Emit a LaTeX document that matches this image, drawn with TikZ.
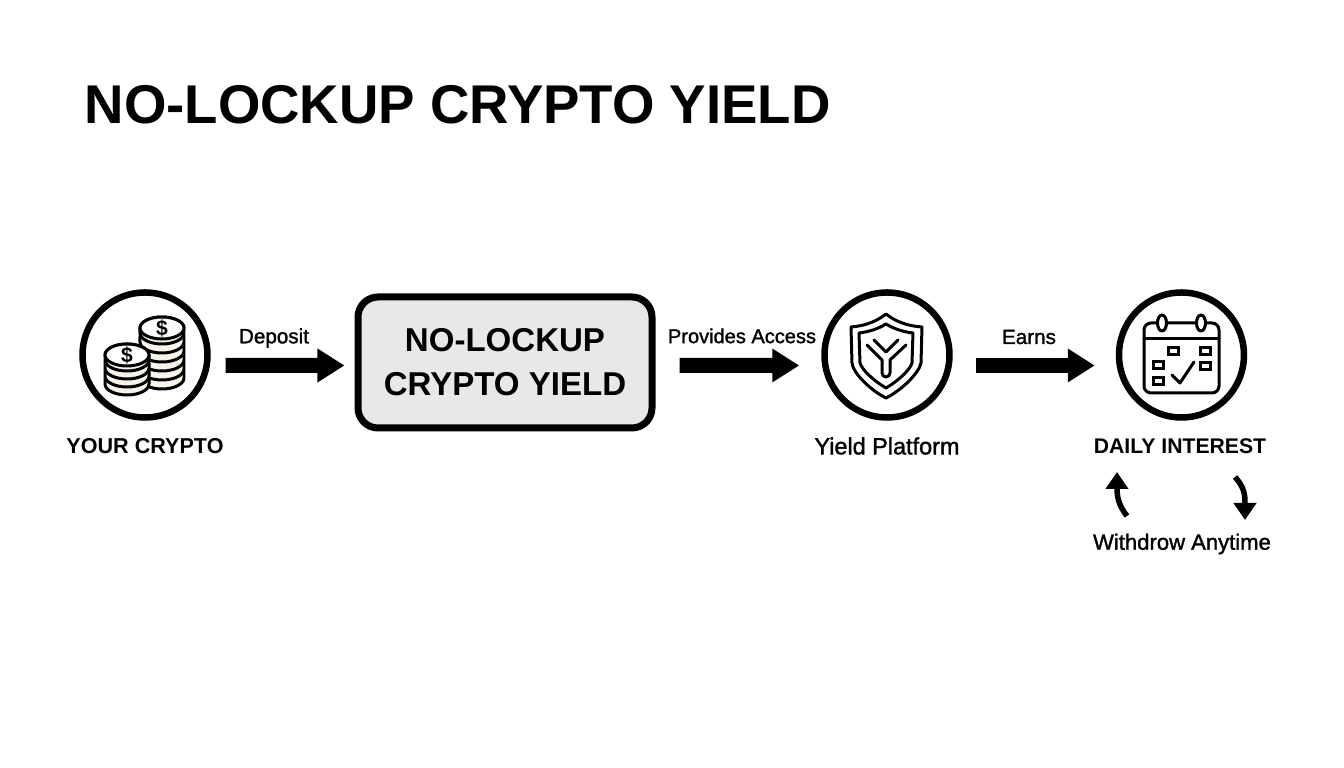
\documentclass[tikz,border=0pt]{standalone}
\usepackage{fontspec}
\usetikzlibrary{arrows.meta}
\setmainfont{Liberation Sans}
\newfontfamily\medfont[FakeBold=1.4]{Liberation Sans}
\newcommand{\lbl}[1]{\fontsize{#1}{#1}\selectfont}
\newcommand{\coinstack}[4]{
	\foreach \i in {#3,...,0}{
		\draw[iconline,fill=coinfill] (#1-.22,#2-\i*#4) -- ++(0,-.05) arc[start angle=180,end angle=360,x radius=.22,y radius=.11] -- ++(0,.05) arc[start angle=0,end angle=180,x radius=.22,y radius=.11] -- cycle;
	}
	\draw[iconline,fill=white] (#1,#2) ellipse[x radius=.22,y radius=.11];
}
\definecolor{coinfill}{HTML}{F7F4EC}
\definecolor{boxfill}{HTML}{E8E8E8}
\tikzset{
	ring/.style={draw=black,fill=white,circle,line width=.065cm,minimum size=1.25cm,inner sep=0pt},
	flow/.style={-{Triangle[length=.27cm,width=.32cm]},line width=.15cm},
	back/.style={-{Triangle[length=.17cm,width=.22cm]},line width=.055cm},
	iconline/.style={line width=.03cm,line join=round},
	thinline/.style={line width=.03cm,line join=round,line cap=round},
	smallbox/.style={draw=black,line width=.03cm,minimum width=.1cm,minimum height=.075cm,inner sep=0pt}
}

\begin{document}
\begin{tikzpicture}
	\useasboundingbox[fill=white] (0,0) rectangle (13.44,7.68);

	\node[anchor=west,inner sep=0pt] (title) at (.84,6.63) {\lbl{15.53}\bfseries NO-LOCKUP CRYPTO YIELD};

	\node[ring] (crypto) at (1.45,4.13) {};
	\node[ring] (platform) at (8.87,4.13) {};
	\node[ring] (interest) at (11.815,4.13) {};
	\node[draw=black,fill=boxfill,line width=.07cm,rounded corners=.2cm,minimum width=2.94cm,minimum height=1.31cm,align=center,font=\fontsize{9.4}{12.5}\selectfont\bfseries] (core) at (5.05,4.055)
		{NO-LOCKUP\\CRYPTO YIELD};

	\draw[flow,shorten <=.15cm,shorten >=.1cm] ([yshift=-.105cm]crypto.east) -- ([yshift=-.03cm]core.west);
	\draw[flow,shorten <=.24cm,shorten >=.22cm] ([yshift=-.03cm]core.east) -- ([yshift=-.105cm]platform.west);
	\draw[flow,shorten <=.23cm,shorten >=.21cm] ([yshift=-.105cm]platform.east) -- ([yshift=-.105cm]interest.west);

	\node (deposit) at (2.74,4.30) {\lbl{5.87}\medfont Deposit};
	\node (access) at (7.42,4.32) {\lbl{5.7}\medfont Provides Access};
	\node (earns) at (10.29,4.31) {\lbl{5.87}\medfont Earns};
	\node (cryptolbl) at (1.45,3.22) {\lbl{6.14}\bfseries YOUR CRYPTO};
	\node (platformlbl) at (8.87,3.22) {\lbl{6.67}\medfont Yield Platform};
	\node (interestlbl) at (11.80,3.22) {\lbl{6.03}\bfseries DAILY INTEREST};
	\node (withdraw) at (11.82,2.24) {\lbl{6.28}\medfont Withdrow Anytime};

	% coins
	\coinstack{1.62}{4.40}{5}{.09}
	\node (dollarb) at (1.62,4.40) {\lbl{6}\bfseries\$};
	\coinstack{1.27}{4.13}{3}{.08}
	\node (dollara) at (1.27,4.13) {\lbl{6}\bfseries\$};

	% shield
	\draw[thinline] (8.86,4.54) .. controls (8.76,4.46) and (8.64,4.42) .. (8.51,4.41) -- (8.52,4.05) .. controls (8.53,3.95) and (8.70,3.78) .. (8.86,3.70) .. controls (9.02,3.78) and (9.19,3.95) .. (9.21,4.05) -- (9.22,4.41) .. controls (9.08,4.42) and (8.96,4.46) .. cycle;
	\draw[thinline] (8.86,4.44) .. controls (8.78,4.39) and (8.68,4.36) .. (8.59,4.35) -- (8.60,4.05) .. controls (8.62,3.98) and (8.74,3.87) .. (8.86,3.80) .. controls (8.98,3.87) and (9.10,3.98) .. (9.12,4.05) -- (9.13,4.35) .. controls (9.04,4.36) and (8.94,4.39) .. cycle;
	\draw[thinline] (8.74,4.28) -- (8.86,4.16) -- (8.98,4.28) (9.06,4.23) -- (8.90,4.08) -- (8.90,3.95) arc[start angle=0,end angle=-180,radius=.04] -- (8.82,4.08) -- (8.67,4.23);

	% calendar
	\draw[thinline,rounded corners=.07cm] (11.44,3.75) rectangle (12.19,4.45);
	\draw[thinline] (11.44,4.29) -- (12.19,4.29);
	\draw[thinline,fill=white] (11.62,4.45) ellipse[x radius=.045,y radius=.08];
	\draw[thinline,fill=white] (12.01,4.45) ellipse[x radius=.045,y radius=.08];
	\foreach \x/\y [count=\n] in {11.73/4.17,12.05/4.17,12.05/4.02,11.58/4.03,11.58/3.87}{
		\node[smallbox] (cell\n) at (\x,\y) {};
	}
	\draw[thinline] (11.72,3.93) -- (11.80,3.85) -- (11.94,4.06);

	% withdraw arrows
	\coordinate (upfrom) at (11.27,2.52);
	\coordinate (upto) at (11.17,2.96);
	\coordinate (downfrom) at (12.35,2.91);
	\coordinate (downto) at (12.45,2.48);
	\draw[back] (upfrom) .. controls (11.18,2.63) and (11.17,2.73) .. (upto);
	\draw[back] (downfrom) .. controls (12.45,2.80) and (12.45,2.72) .. (downto);
\end{tikzpicture}
\end{document}
